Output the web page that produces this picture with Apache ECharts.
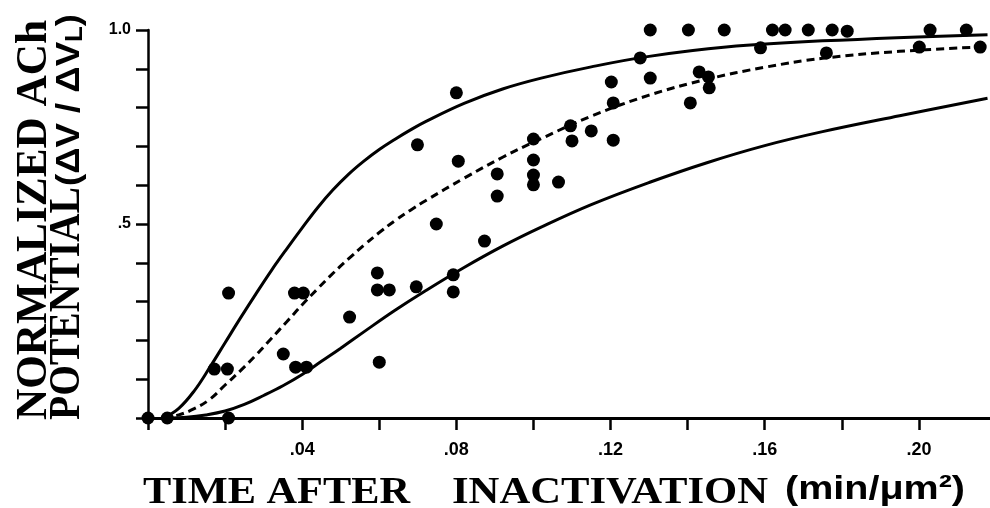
<!DOCTYPE html>
<html>
<head>
<meta charset="utf-8">
<script src="https://cdn.jsdelivr.net/npm/echarts@6/dist/echarts.min.js"></script>
<style>
  html, body { margin: 0; padding: 0; background: #fff; }
  #main { width: 990px; height: 508px; }
</style>
</head>
<body>
<div id="main"></div>
<script>
// measured points [time, normalized potential]
var dots = [
  [0.000, 0.00], [0.005, 0.00], [0.0209, 0.00], [0.0209, 0.322],
  [0.0172, 0.126], [0.0206, 0.126], [0.038, 0.322], [0.0403, 0.322],
  [0.0351, 0.165], [0.0383, 0.131], [0.0411, 0.131], [0.0523, 0.260],
  [0.0595, 0.374], [0.0595, 0.330], [0.0626, 0.330], [0.060, 0.144],
  [0.0696, 0.338], [0.0699, 0.704], [0.0748, 0.500], [0.080, 0.838],
  [0.0805, 0.662], [0.0792, 0.369], [0.0792, 0.325], [0.0873, 0.456],
  [0.0906, 0.629], [0.0906, 0.572], [0.100, 0.719], [0.100, 0.665],
  [0.100, 0.626], [0.100, 0.601], [0.1065, 0.608], [0.110, 0.714],
  [0.1096, 0.753], [0.115, 0.740], [0.1207, 0.716], [0.1202, 0.866],
  [0.1207, 0.812], [0.1277, 0.928], [0.1303, 1.0], [0.1303, 0.876],
  [0.1402, 1.0], [0.1407, 0.812], [0.143, 0.892], [0.1454, 0.879],
  [0.1456, 0.851], [0.1495, 1.0], [0.1589, 0.954], [0.162, 1.0],
  [0.1653, 1.0], [0.1713, 1.0], [0.176, 0.941], [0.1775, 1.0],
  [0.1814, 0.997], [0.2001, 0.956], [0.2029, 1.0], [0.2123, 1.0],
  [0.2159, 0.956]
]

// upper solid curve
var upperCurve = [
  [0.004, 0], [0.008, 0.025], [0.012, 0.07], [0.016, 0.13],
  [0.020, 0.194], [0.024, 0.258], [0.028, 0.32], [0.032, 0.38],
  [0.036, 0.436], [0.040, 0.490], [0.044, 0.542], [0.048, 0.588],
  [0.052, 0.628], [0.056, 0.662], [0.060, 0.692], [0.064, 0.718],
  [0.068, 0.742], [0.072, 0.764], [0.082, 0.811], [0.092, 0.848],
  [0.102, 0.876], [0.115, 0.905], [0.130, 0.932], [0.150, 0.956],
  [0.175, 0.972], [0.2178, 0.988]
]

// dashed middle curve
var middleCurve = [
  [0.004, 0], [0.008, 0.008], [0.012, 0.024], [0.016, 0.048],
  [0.020, 0.085], [0.024, 0.122], [0.028, 0.162], [0.032, 0.205],
  [0.036, 0.248], [0.040, 0.292], [0.044, 0.333], [0.048, 0.373],
  [0.052, 0.410], [0.056, 0.445], [0.060, 0.478], [0.064, 0.508],
  [0.068, 0.535], [0.072, 0.560], [0.082, 0.618], [0.092, 0.672],
  [0.102, 0.720], [0.115, 0.778], [0.130, 0.832], [0.145, 0.873],
  [0.160, 0.904], [0.175, 0.927], [0.195, 0.945], [0.2159, 0.956]
]

// lower solid curve
var lowerCurve = [
  [0.005, 0], [0.010, 0.002], [0.015, 0.008], [0.020, 0.018],
  [0.025, 0.035], [0.030, 0.058], [0.035, 0.083], [0.040, 0.112],
  [0.045, 0.146], [0.050, 0.180], [0.056, 0.222], [0.064, 0.277],
  [0.072, 0.328], [0.082, 0.388], [0.092, 0.443], [0.102, 0.492],
  [0.115, 0.550], [0.130, 0.607], [0.145, 0.658], [0.160, 0.702],
  [0.175, 0.738], [0.195, 0.779], [0.2178, 0.824]
]

var xLabelValues = [0.04, 0.08, 0.12, 0.16, 0.20]
var xLabelTexts = ['.04', '.08', '.12', '.16', '.20']
var yLabelValues = [0.5, 1.0]
var yLabelTexts = ['.5', '1.0']

function pickLabel(values, texts) {
  return function (v) {
    for (var i = 0; i < values.length; i++) {
      if (Math.abs(values[i] - v) < 1e-6) return texts[i]
    }
    return ''
  }
}

// stretch factor so a title piece spans the width seen in the original
var measureCtx = document.createElement('canvas').getContext('2d')
function fit(parts, target) {
  var w = 0
  parts.forEach(function (p) {
    measureCtx.font = 'bold ' + p[1] + 'px "' + p[2] + '"'
    w += measureCtx.measureText(p[0]).width
  })
  return target / w
}

var SERIF = 'Liberation Serif'
var SANS = 'Liberation Sans'

function titleText(x, y, text, size, family, scale, rotated, rich) {
  return {
    type: 'text',
    x: x,
    y: y,
    rotation: rotated ? Math.PI / 2 : 0,
    scaleX: scale,
    silent: true,
    style: {
      text: text,
      fill: '#000',
      fontFamily: family,
      fontWeight: 'bold',
      fontSize: size,
      align: 'left',
      verticalAlign: 'middle',
      rich: rich
    }
  }
}

var chart = echarts.init(document.getElementById('main'))

var lineBase = {
  type: 'line',
  showSymbol: false,
  smooth: 0.4,
  silent: true,
  z: 2
}

chart.setOption({
  animation: false,
  backgroundColor: '#fff',
  grid: {
    left: 148,
    top: 30,
    right: -6,
    bottom: 90,
    containLabel: false,
    outerBoundsMode: 'none'
  },
  xAxis: {
    type: 'value',
    min: 0,
    max: 0.22,
    interval: 0.02,
    axisLine: { show: true, lineStyle: { color: '#000', width: 3 } },
    axisTick: { show: true, inside: false, length: 12, lineStyle: { color: '#000', width: 2.5 } },
    axisLabel: {
      margin: 23,
      color: '#000',
      fontFamily: SANS,
      fontWeight: 'bold',
      fontSize: 18,
      formatter: pickLabel(xLabelValues, xLabelTexts)
    },
    splitLine: { show: false }
  },
  yAxis: {
    type: 'value',
    min: 0,
    max: 1,
    interval: 0.1,
    axisLine: { show: true, lineStyle: { color: '#000', width: 2.5 } },
    axisTick: { show: true, inside: false, length: 12, lineStyle: { color: '#000', width: 2.5 } },
    axisLabel: {
      margin: 17,
      color: '#000',
      fontFamily: SANS,
      fontWeight: 'bold',
      fontSize: 16,
      formatter: pickLabel(yLabelValues, yLabelTexts)
    },
    splitLine: { show: false }
  },
  graphic: [
    // x axis title
    titleText(143, 493, 'TIME AFTER', 37, SERIF,
      fit([['TIME AFTER', 37, SERIF]], 267), false),
    titleText(452, 493, 'INACTIVATION', 37, SERIF,
      fit([['INACTIVATION', 37, SERIF]], 316), false),
    titleText(785, 490, '(min/μm²)', 34, SANS,
      fit([['(min/μm²)', 34, SANS]], 180), false),
    // y axis title, two rotated lines
    titleText(35, 420, 'NORMALIZED ACh', 44, SERIF,
      fit([['NORMALIZED ACh', 44, SERIF]], 400), true),
    titleText(68, 420, 'POTENTIAL', 44, SERIF,
      fit([['POTENTIAL', 44, SERIF]], 233), true),
    titleText(70, 186, '(ΔV / ΔV{sub|L})', 34, SANS,
      fit([['(ΔV / ΔV', 34, SANS], ['L', 24, SANS], [')', 34, SANS]], 172), true,
      { sub: { fontFamily: SANS, fontWeight: 'bold', fontSize: 24, fill: '#000', verticalAlign: 'bottom' } })
  ],
  series: [
    Object.assign({}, lineBase, {
      name: 'upper',
      data: upperCurve,
      lineStyle: { color: '#000', width: 3, type: 'solid' }
    }),
    Object.assign({}, lineBase, {
      name: 'middle',
      data: middleCurve,
      lineStyle: { color: '#000', width: 3, type: [8, 5] }
    }),
    Object.assign({}, lineBase, {
      name: 'lower',
      data: lowerCurve,
      lineStyle: { color: '#000', width: 3, type: 'solid' }
    }),
    {
      name: 'data',
      type: 'scatter',
      data: dots,
      symbol: 'circle',
      symbolSize: 13,
      clip: false,
      silent: true,
      itemStyle: { color: '#000', opacity: 1 },
      z: 3
    }
  ]
})
</script>
</body>
</html>
